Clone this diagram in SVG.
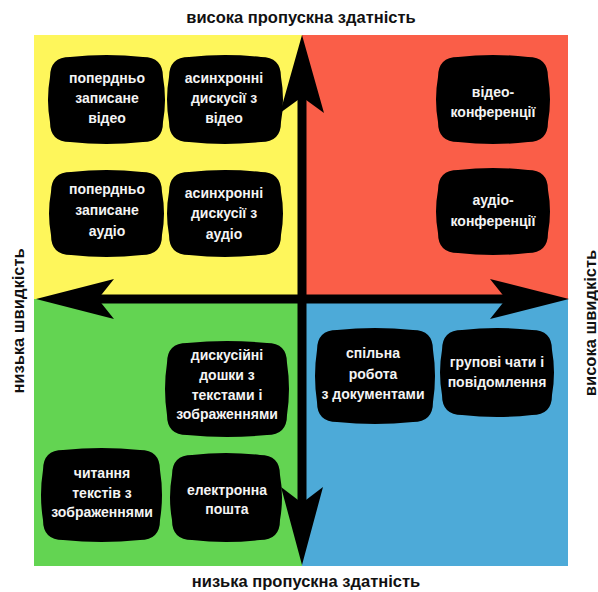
<svg xmlns="http://www.w3.org/2000/svg" width="598" height="592" viewBox="0 0 598 592">
<style>
.node{fill:#000}
.t{font-family:"Liberation Sans",Arial,sans-serif;font-weight:bold;font-size:14px;fill:#f4f4f4;text-anchor:middle}
.ax{font-family:"Liberation Sans",Arial,sans-serif;font-weight:bold;font-size:16.5px;fill:#111;text-anchor:middle}
.shaft{stroke:#000;stroke-width:9;fill:none}
.head{fill:#000}
</style>
<rect x="0" y="0" width="598" height="592" fill="#fff"/>
<g id="quadrants">
<rect x="34" y="35" width="268" height="264" fill="#FEF65B"/>
<rect x="302" y="35" width="266" height="264" fill="#FA5E48"/>
<rect x="34" y="299" width="268" height="267" fill="#63D452"/>
<rect x="302" y="299" width="266" height="267" fill="#4DAAD8"/>
</g>
<g id="axes">
<line class="shaft" x1="302" y1="90" x2="302" y2="510"/>
<line class="shaft" x1="90" y1="299" x2="514" y2="299"/>
<polygon class="head" points="302,35 324,113 302,97 280,113"/>
<polygon class="head" points="302,565 323,487 302,503 281,487"/>
<polygon class="head" points="36,299 114,279 98,299 114,319"/>
<polygon class="head" points="569,299 490,279 506,299 490,319"/>
</g>
<g id="labels">
<text class="ax" x="301" y="23">висока пропускна здатність</text>
<text class="ax" x="306" y="587">низька пропускна здатність</text>
<text class="ax" transform="translate(24,321) rotate(-90)">низька швидкість</text>
<text class="ax" transform="translate(596,323) rotate(-90)">висока швидкість</text>
</g>
<g id="n1"><path class="node" d="M70 57 Q106.5 53 143 57 Q163 57 163 77 Q167 99.5 163 122 Q163 142 143 142 Q106.5 146 70 142 Q50 142 50 122 Q46 99.5 50 77 Q50 57 70 57Z"/>
<text class="t" x="107" y="83">попердньо</text><text class="t" x="107" y="103">записане</text><text class="t" x="107" y="123">відео</text></g>
<g id="n2"><path class="node" d="M189 57 Q225 53 261 57 Q281 57 281 77 Q285 99.5 281 122 Q281 142 261 142 Q225 146 189 142 Q169 142 169 122 Q165 99.5 169 77 Q169 57 189 57Z"/>
<text class="t" x="224" y="83">асинхронні</text><text class="t" x="224" y="103">дискусії з</text><text class="t" x="224" y="123">відео</text></g>
<g id="n3"><path class="node" d="M71 172 Q106.5 168 142 172 Q162 172 162 192 Q166 213.5 162 235 Q162 255 142 255 Q106.5 259 71 255 Q51 255 51 235 Q47 213.5 51 192 Q51 172 71 172Z"/>
<text class="t" x="107" y="194">попердньо</text><text class="t" x="107" y="215">записане</text><text class="t" x="107" y="236">аудіо</text></g>
<g id="n4"><path class="node" d="M189 172 Q225 168 261 172 Q281 172 281 192 Q285 213.5 281 235 Q281 255 261 255 Q225 259 189 255 Q169 255 169 235 Q165 213.5 169 192 Q169 172 189 172Z"/>
<text class="t" x="224" y="198">асинхронні</text><text class="t" x="224" y="218">дискусії з</text><text class="t" x="224" y="239">аудіо</text></g>
<g id="n5"><path class="node" d="M458 57 Q493 53 528 57 Q548 57 548 77 Q552 99.5 548 122 Q548 142 528 142 Q493 146 458 142 Q438 142 438 122 Q434 99.5 438 77 Q438 57 458 57Z"/>
<text class="t" x="493" y="97">відео-</text><text class="t" x="493" y="117">конференції</text></g>
<g id="n6"><path class="node" d="M458 170 Q493 166 528 170 Q548 170 548 190 Q552 211.5 548 233 Q548 253 528 253 Q493 257 458 253 Q438 253 438 233 Q434 211.5 438 190 Q438 170 458 170Z"/>
<text class="t" x="493" y="205">аудіо-</text><text class="t" x="493" y="226">конференції</text></g>
<g id="n7"><path class="node" d="M187 343 Q227 339 267 343 Q287 343 287 363 Q291 389 287 415 Q287 435 267 435 Q227 439 187 435 Q167 435 167 415 Q163 389 167 363 Q167 343 187 343Z"/>
<text class="t" x="227" y="360">дискусійні</text><text class="t" x="227" y="380">дошки з</text><text class="t" x="227" y="400">текстами і</text><text class="t" x="227" y="419">зображеннями</text></g>
<g id="n8"><path class="node" d="M63 450 Q101.5 446 140 450 Q160 450 160 470 Q164 495 160 520 Q160 540 140 540 Q101.5 544 63 540 Q43 540 43 520 Q39 495 43 470 Q43 450 63 450Z"/>
<text class="t" x="102" y="478">читання</text><text class="t" x="102" y="498">текстів з</text><text class="t" x="102" y="517">зображеннями</text></g>
<g id="n9"><path class="node" d="M192 455 Q226 451 260 455 Q280 455 280 475 Q284 497.5 280 520 Q280 540 260 540 Q226 544 192 540 Q172 540 172 520 Q168 497.5 172 475 Q172 455 192 455Z"/>
<text class="t" x="227" y="495">електронна</text><text class="t" x="227" y="514">пошта</text></g>
<g id="n10"><path class="node" d="M337 330 Q375 326 413 330 Q433 330 433 350 Q437 376 433 402 Q433 422 413 422 Q375 426 337 422 Q317 422 317 402 Q313 376 317 350 Q317 330 337 330Z"/>
<text class="t" x="373" y="358">спільна</text><text class="t" x="373" y="379">робота</text><text class="t" x="373" y="399">з документами</text></g>
<g id="n11"><path class="node" d="M462 330 Q497 326 532 330 Q552 330 552 350 Q556 372.5 552 395 Q552 415 532 415 Q497 419 462 415 Q442 415 442 395 Q438 372.5 442 350 Q442 330 462 330Z"/>
<text class="t" x="497" y="367">групові чати і</text><text class="t" x="497" y="387">повідомлення</text></g>
</svg>
